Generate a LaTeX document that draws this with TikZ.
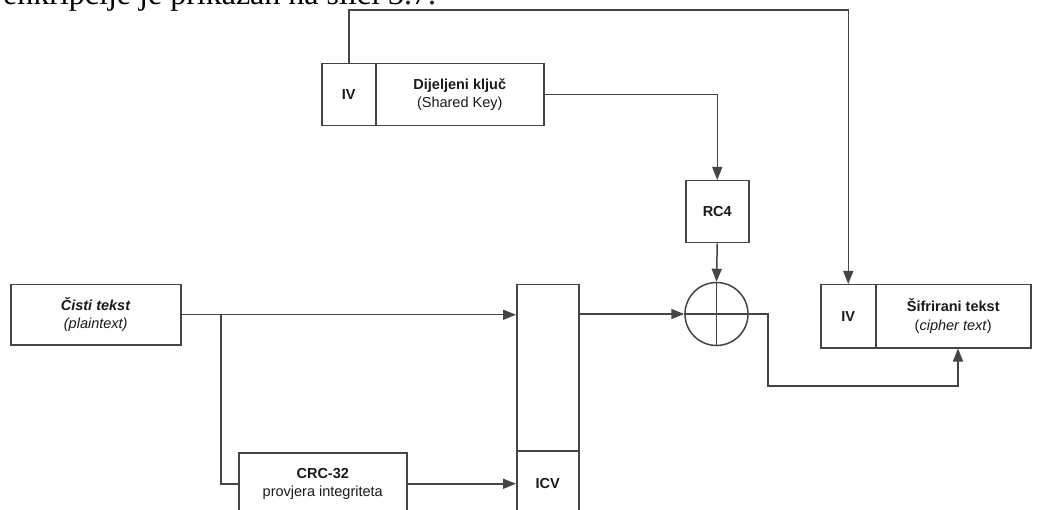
\documentclass[tikz,border=0pt]{standalone}
\usepackage{fontspec}
\setmainfont{Liberation Sans}
\newfontfamily\serif{Liberation Serif}
\usetikzlibrary{arrows.meta,calc}
\definecolor{ln}{HTML}{454545}
\definecolor{tx}{HTML}{1A1A1A}
\begin{document}
\begin{tikzpicture}[x=1pt,y=-1pt,
  box/.style={draw=ln,line width=1.5pt,rectangle,anchor=north west,inner sep=0pt,
    text=tx,align=center,font=\fontsize{14.5}{18.5}\selectfont},
  circ/.style={draw=ln,line width=1.5pt,circle,minimum size=63pt,inner sep=0pt},
  wire/.style={draw=ln,line width=1.5pt},
  arr/.style={wire,-{Triangle[length=13pt,width=10pt]}}]
\clip (0,0) rectangle (1038,510);
\fill[white] (0,0) rectangle (1038,510);
% cut-off text line at the top
\node[anchor=base west,inner sep=0pt,font=\serif\fontsize{32}{36}\selectfont] (cap) at (3,4.5) {enkripcije je prikazan na slici 3.7.};
% boxes
\node[box,minimum width=170pt,minimum height=60pt] (plain) at (10,284) {\textbf{\textit{Čisti tekst}}\\\textit{(plaintext)}};
\node[box,minimum width=62pt,minimum height=166pt] (tall) at (516,284) {};
\node[box,minimum width=62pt,minimum height=66pt] (icv) at (516,450) {\textbf{ICV}};
\node[box,minimum width=168pt,minimum height=62pt] (crc) at (238,452) {\textbf{CRC-32}\\provjera integriteta};
\node[box,minimum width=63pt,minimum height=62pt] (rc4) at (685,180) {\textbf{RC4}};
\node[box,minimum width=54pt,minimum height=62pt] (kiv) at (321,63) {\textbf{IV}};
\node[box,minimum width=168pt,minimum height=62pt] (key) at (375,63) {\textbf{Dijeljeni ključ}\\(Shared Key)};
\node[box,minimum width=55pt,minimum height=63pt] (civ) at (820,284) {\textbf{IV}};
\node[box,minimum width=155pt,minimum height=63pt] (ciph) at (875,284) {\textbf{Šifrirani tekst}\\(\textit{cipher text})};
\node[circ] (xor) at (716.5,314) {};
\draw[wire] (xor.north) -- (xor.south) (xor.west) -- (xor.east);
% coordinates
\coordinate (br) at (221,314);
\coordinate (top) at (0,10);
\coordinate (c1) at (768,386);
\coordinate (c2) at (958,386);
% connectors
\draw[arr] (plain.east) -- (plain.east -| tall.west);
\draw[wire] (br) |- (crc.west);
\draw[arr] (crc.east) -- (icv.west);
\draw[arr] (xor.west -| tall.east) -- (xor.west);
\draw[arr] (rc4.south) -- (xor.north);
\draw[arr] (key.east) -| (rc4.north);
\draw[arr] (kiv.north) -- (kiv.north |- top) -| (civ.north);
\draw[arr] (xor.east) -| (c1) -- (c2) -- (c2 |- ciph.south);
\end{tikzpicture}
\end{document}
